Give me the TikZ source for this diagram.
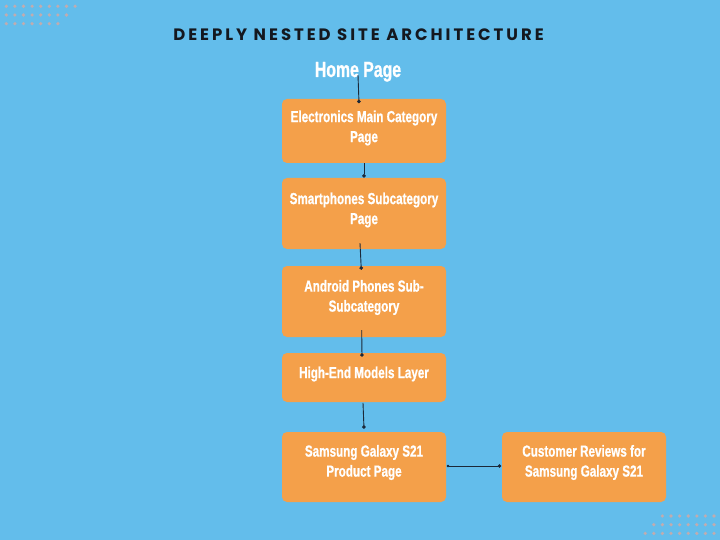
\documentclass[tikz,border=0pt]{standalone}
\usepackage{fontspec}
\usetikzlibrary{arrows.meta,calc}
\newfontfamily\boxfont{Liberation Sans Bold}[FakeStretch=0.73,FakeBold=0.8]
\newfontfamily\homefont{Liberation Sans Bold}[FakeStretch=0.72,FakeBold=0.8]
\newfontfamily\titlefont{Poppins}[LetterSpace=18]
\definecolor{bg}{HTML}{63BDEB}
\definecolor{boxc}{HTML}{F4A04A}
\definecolor{dotc}{HTML}{C0ACB0}
\definecolor{linec}{HTML}{1B2838}
\definecolor{titlec}{HTML}{14181F}
\begin{document}
\begin{tikzpicture}[x=1pt,y=-1pt,
  box/.style={fill=boxc, rounded corners=5pt, minimum width=164pt, inner sep=0pt},
  lbl/.style={text=white, font=\boxfont\fontsize{16}{20}\selectfont, align=center, inner sep=0pt},
  conn/.style={draw=linec, line width=0.9pt, -{Circle[length=3.6pt]}}]
\fill[bg] (0,0) rectangle (720,540);
\useasboundingbox (0,0) rectangle (720,540);
% decorative dots
\foreach \r in {0,1,2}{
  \pgfmathtruncatemacro{\n}{8-\r}
  \foreach \i in {0,...,\n}{
    \fill[dotc] (6.3+8.6*\i, 6.3+8.7*\r) circle (1.8);
  }
}
\foreach \r in {0,1,2}{
  \pgfmathtruncatemacro{\n}{6+\r}
  \foreach \i in {0,...,\n}{
    \fill[dotc] (714-8.6*\i, 516+8.7*\r) circle (1.8);
  }
}
% title
\node[font=\titlefont\bfseries\fontsize{16.5}{18}\selectfont, text=titlec, inner sep=0pt] (title) at (358.5,34.8) {DEEPLY NESTED SITE ARCHITECTURE};
\node[text=white, font=\homefont\fontsize{22}{26}\selectfont, anchor=base, inner sep=0pt] (home) at (358,77) {Home Page};
% boxes
\node[box, minimum height=64pt] (b1) at (364,131) {};
\node[box, minimum height=71pt] (b2) at (364,213.5) {};
\node[box, minimum height=71pt] (b3) at (364,301.5) {};
\node[box, minimum height=49pt] (b4) at (364,377.5) {};
\node[box, minimum height=70pt] (b5) at (364,467) {};
\node[box, minimum height=70pt] (b6) at (584,467) {};
% connectors
\draw[conn] ($(home.base)+(0,-2)$) -- ($(b1.north)+(-5,4.5)$);
\draw[conn] (b1.south) -- ($(b2.north)+(0,-0.2)$);
\draw[conn] ($(b2.south)+(-4,-6)$) -- ($(b3.north)+(-2.7,4)$);
\draw[conn] ($(b3.south)+(-2.3,-7)$) -- ($(b4.north)+(-2,4)$);
\draw[conn] ($(b4.south)+(-1,0.7)$) -- ($(b5.north)+(0,-3)$);
\draw[conn, {Circle[length=2.6pt]}-{Circle[length=3.6pt]}] ($(b5.east)+(0.5,-1)$) -- ($(b6.west)+(-0.5,-1)$);
% labels
\node[lbl] (t1) at (364,128) {Electronics Main Category\\Page};
\node[lbl] (t2) at (364,210) {Smartphones Subcategory\\Page};
\node[lbl] (t3) at (364,297.5) {Android Phones Sub-\\Subcategory};
\node[lbl] (t4) at (364,374) {High-End Models Layer};
\node[lbl] (t5) at (364,462.5) {Samsung Galaxy S21\\Product Page};
\node[lbl] (t6) at (584,462.5) {Customer Reviews for\\Samsung Galaxy S21};
\end{tikzpicture}
\end{document}
